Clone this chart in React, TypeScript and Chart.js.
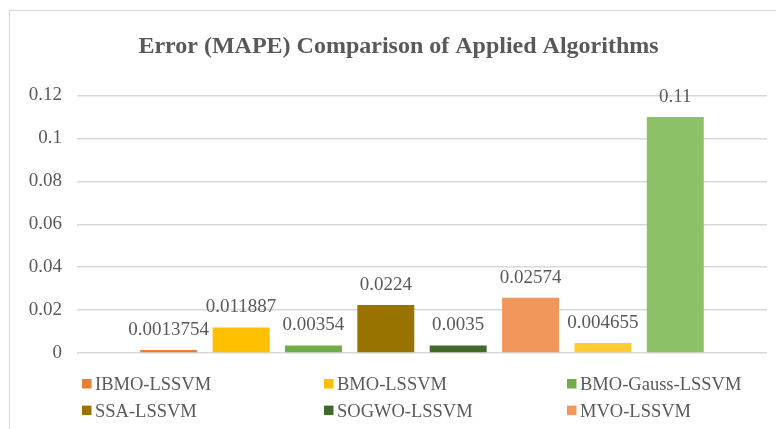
import React, { useEffect, useRef } from 'react';
import { Chart, registerables } from 'chart.js';

Chart.register(...registerables);

const TITLE = 'Error (MAPE) Comparison of Applied Algorithms';
const categories = [''];
const seriesNames = [
  'IBMO-LSSVM',
  'BMO-LSSVM',
  'BMO-Gauss-LSSVM',
  'SSA-LSSVM',
  'SOGWO-LSSVM',
  'MVO-LSSVM',
  'Series 7',
  'Series 8',
];
const seriesValues = [0.0013754, 0.011887, 0.00354, 0.0224, 0.0035, 0.02574, 0.004655, 0.11];
const valueLabels = ['0.0013754', '0.011887', '0.00354', '0.0224', '0.0035', '0.02574', '0.004655', '0.11'];
const seriesColors = ['#ED7D31', '#FFC000', '#70AD47', '#997300', '#43682B', '#F1975A', '#FFCD33', '#8CC168'];
const yTickLabels = ['0', '0.02', '0.04', '0.06', '0.08', '0.1', '0.12'];
const Y_MIN = 0;
const Y_MAX = 0.12;
const Y_STEP = 0.02;
const LEGEND_VISIBLE = 6; // the third legend row is cropped off in the reference

const TEXT = '#595959';
const FONT = '"Liberation Serif", "Times New Roman", serif';

const decor = {
  id: 'decor',
  beforeDraw(chart: any) {
    const { ctx, width, height } = chart;
    ctx.save();
    ctx.fillStyle = '#ffffff';
    ctx.fillRect(0, 0, width, height);
    ctx.strokeStyle = '#d9d9d9';
    ctx.lineWidth = 1.2;
    ctx.strokeRect(9.5, 10.5, width + 50, height + 50);
    ctx.restore();
  },
  afterDatasetsDraw(chart: any) {
    const { ctx } = chart;
    ctx.save();
    ctx.font = `19px ${FONT}`;
    ctx.fillStyle = TEXT;
    ctx.textAlign = 'center';
    ctx.textBaseline = 'alphabetic';
    chart.data.datasets.forEach((ds: any, i: number) => {
      const meta = chart.getDatasetMeta(i);
      const el = meta.data[0];
      if (!el) return;
      ctx.fillText(valueLabels[i], el.x, el.y - 15);
    });
    ctx.restore();
  },
  afterDraw(chart: any) {
    const { ctx } = chart;
    ctx.save();
    // title
    ctx.font = `bold 24px ${FONT}`;
    ctx.fillStyle = TEXT;
    ctx.textAlign = 'center';
    ctx.textBaseline = 'alphabetic';
    ctx.fillText(TITLE, 398.5, 53);
    // legend
    const cols = [82, 324, 567];
    const rows = [383.7, 410.3];
    ctx.font = `18.5px ${FONT}`;
    ctx.textAlign = 'left';
    for (let i = 0; i < LEGEND_VISIBLE; i++) {
      const c = i % 3;
      const r = Math.floor(i / 3);
      const x = cols[c];
      const y = rows[r];
      ctx.fillStyle = seriesColors[i];
      ctx.fillRect(x, y - 4.7, 9.5, 9.5);
      ctx.fillStyle = TEXT;
      ctx.fillText(seriesNames[i], x + 13, y + 6.2);
    }
    ctx.restore();
  },
};

export default function App() {
  const ref = useRef<HTMLCanvasElement | null>(null);
  useEffect(() => {
    document.body.style.margin = '0';
    document.body.style.overflow = 'hidden';
    const canvas = ref.current;
    if (!canvas) return;
    const chart = new Chart(canvas, {
      type: 'bar',
      data: {
        labels: categories,
        datasets: seriesNames.map((name, i) => ({
          label: name,
          data: [seriesValues[i]],
          backgroundColor: seriesColors[i],
          borderWidth: 0,
          categoryPercentage: 0.839,
          barPercentage: 0.787,
        })),
      },
      options: {
        responsive: false,
        animation: false,
        devicePixelRatio: 1,
        layout: { padding: { top: 95.5, bottom: 76, left: 0, right: 9 } },
        plugins: {
          legend: { display: false },
          title: { display: false },
          tooltip: { enabled: false },
        },
        scales: {
          x: { display: false },
          y: {
            min: Y_MIN,
            max: Y_MAX,
            afterFit: (s: any) => {
              s.width = 77;
            },
            border: { display: false },
            grid: { color: '#d9d9d9', lineWidth: 1.5, drawTicks: false },
            ticks: {
              stepSize: Y_STEP,
              padding: 15,
              color: TEXT,
              font: { family: FONT, size: 19 },
              callback: (_v: any, i: number) => yTickLabels[i],
            },
          },
        },
      },
      plugins: [decor],
    });
    return () => chart.destroy();
  }, []);
  return <canvas ref={ref} width={776} height={429} style={{ display: 'block' }} />;
}
